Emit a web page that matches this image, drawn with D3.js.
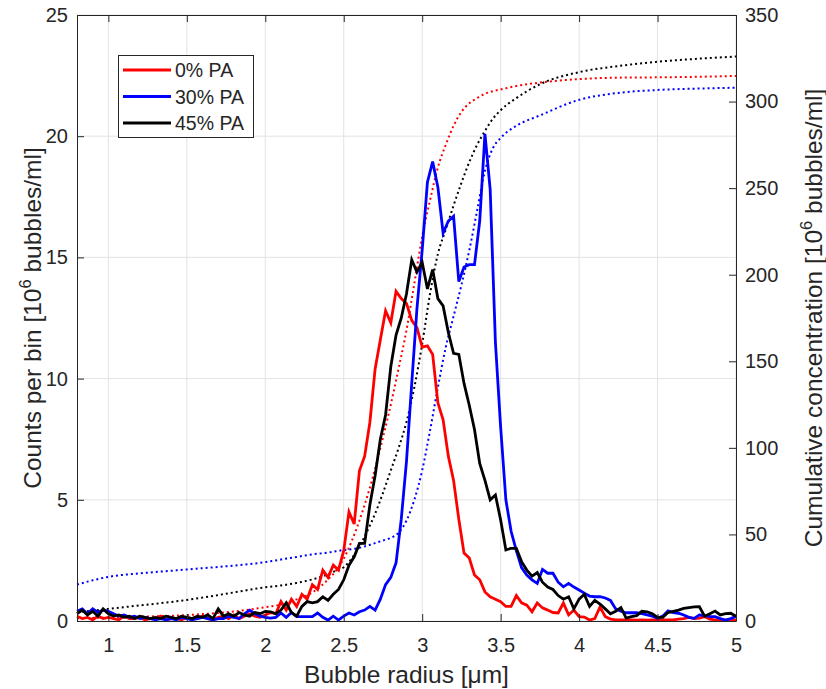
<!DOCTYPE html>
<html>
<head>
<meta charset="utf-8">
<script src="https://cdn.jsdelivr.net/npm/d3@7"></script>
<style>
body { margin: 0; background: #fff; }
text { font-family: "Liberation Sans", Arial, sans-serif; fill: #262626; }
</style>
</head>
<body>
<div id="chart"></div>
<script>

// histogram bins: 0.8 .. 5.0 um, 1/30 um wide
var binStart = 0.8;
var binStep = 1 / 30;

var aCountsRed = [
    0.2, 0.1, 0.15, 0.05, 0.2, 0.1, 0.15, 0.1, 0.05, 0.2, 0.1, 0.1, 0.15, 0.05, 0.1, 0.1, 0.2, 0.05,
    0.1, 0.1, 0.05, 0.15, 0.1, 0.1, 0.2, 0.1, 0.05, 0.15, 0.2, 0.1, 0.25, 0.1, 0.2, 0.3, 0.2, 0.15,
    0.25, 0.35, 0.3, 0.8, 0.45, 0.9, 0.6, 1.1, 0.9, 1.5, 1.3, 2.1, 1.8, 2.3, 2.1, 2.9,
    4.5, 4.0, 6.2, 6.8, 8.2, 10.4, 11.6, 12.8, 12.3, 13.6, 13.3, 13.1, 12.4, 12.1, 11.3, 11.35,
    11.0, 9.0, 8.3, 6.8, 5.8, 4.2, 2.8, 2.6, 1.9, 1.7, 1.2, 1.0, 0.9, 0.8, 0.6, 0.6,
    1.05, 0.75, 0.65, 0.38, 0.74, 0.54, 0.45, 0.35, 0.33, 0.74, 0.25, 0.45, 0.18, 0.16, 0.04, 0.1,
    0.58, 0.18, 0.08, 0.05, 0.05, 0.05, 0.05, 0.04, 0.05, 0.04, 0.05, 0.04, 0.05, 0.05, 0.05, 0.08,
    0.1, 0.15, 0.1, 0.12, 0.18, 0.08, 0.05, 0.05, 0.04, 0.05, 0.05
];

var aCountsBlue = [
    0.4, 0.5, 0.3, 0.5, 0.35, 0.45, 0.4, 0.3, 0.2, 0.25, 0.15, 0.2, 0.1, 0.15, 0.1, 0.05, 0.1, 0.05,
    0.1, 0.05, 0.15, 0.1, 0.05, 0.1, 0.15, 0.1, 0.05, 0.1, 0.1, 0.2, 0.15, 0.1, 0.3, 0.45, 0.3, 0.2,
    0.15, 0.12, 0.15, 0.33, 0.15, 0.35, 0.18, 0.18, 0.18, 0.18, 0.33, 0.15, 0.04, 0.2, 0.04, 0.2,
    0.33, 0.25, 0.38, 0.45, 0.6, 0.45, 0.9, 1.5, 1.8, 2.4, 4.2, 6.6, 9.8, 12.9, 15.3, 18.1,
    18.95, 17.9, 16.0, 16.5, 16.7, 14.0, 14.6, 14.7, 14.7, 16.5, 20.1, 17.8, 11.5, 8.0, 5.0, 3.7,
    2.9, 2.2, 1.9, 1.7, 1.55, 2.13, 1.97, 1.97, 1.6, 1.41, 1.55, 1.4, 1.28, 1.15, 1.03, 1.0,
    1.0, 0.95, 0.85, 0.5, 0.4, 0.34, 0.34, 0.34, 0.3, 0.25, 0.2, 0.11, 0.2, 0.42, 0.35, 0.32,
    0.25, 0.15, 0.11, 0.25, 0.22, 0.18, 0.18, 0.1, 0.04, 0.1, 0.2
];

var aCountsBlack = [
    0.3, 0.45, 0.25, 0.4, 0.2, 0.5, 0.3, 0.2, 0.25, 0.15, 0.2, 0.1, 0.2, 0.15, 0.1, 0.15, 0.1, 0.2,
    0.15, 0.1, 0.2, 0.15, 0.1, 0.2, 0.15, 0.25, 0.1, 0.5, 0.2, 0.3, 0.2, 0.35, 0.25, 0.2, 0.35, 0.3,
    0.4, 0.38, 0.3, 0.45, 0.75, 0.35, 0.2, 0.6, 0.8, 0.75, 0.8, 1.0, 0.85, 1.1, 1.3, 1.7,
    2.3, 2.65, 3.2, 3.2, 4.8, 6.0, 7.5, 8.5, 10.5, 11.8, 12.5, 13.5, 14.9, 14.4, 14.8, 13.7,
    14.5, 13.3, 13.0, 11.9, 11.04, 11.0, 9.8, 8.9, 7.9, 6.5, 5.8, 5.0, 5.2, 4.17, 2.93, 3.0,
    3.0, 2.45, 2.1, 1.85, 2.0, 1.6, 1.4, 1.3, 1.05, 0.9, 1.0, 0.5, 0.9, 1.1, 0.6, 0.85,
    0.7, 0.5, 0.3, 0.4, 0.55, 0.12, 0.18, 0.22, 0.4, 0.38, 0.3, 0.15, 0.15, 0.35, 0.4, 0.45,
    0.52, 0.55, 0.58, 0.59, 0.2, 0.3, 0.41, 0.25, 0.3, 0.32, 0.2
];

// cumulative concentration, read at these radii
var aCumRadius = [0.8, 0.9, 1.0, 1.2, 1.4, 1.6, 1.8, 2.0, 2.1, 2.2, 2.3, 2.4, 2.45, 2.5, 2.55, 2.6, 2.65,
    2.7, 2.75, 2.8, 2.85, 2.9, 2.95, 3.0, 3.05, 3.1, 3.15, 3.2, 3.25, 3.3, 3.35, 3.4, 3.45, 3.5,
    3.6, 3.75, 4.0, 4.25, 4.5, 4.75, 5.0];

var aCumRed = [1.5, 1.8, 2, 2.5, 3, 4, 5.5, 8, 9.5, 12.5, 16.5, 24, 29, 36, 46, 58, 72,
    88, 106, 125, 146, 168, 195, 222, 243, 262, 275, 286, 294, 299, 302, 304.5, 306, 307,
    309, 311, 313, 313.8, 314, 314.3, 314.8];

var aCumBlue = [21, 23.5, 25.5, 27.5, 29, 30.5, 32, 34, 35.5, 37, 38.5, 39.5, 40.3, 41, 41.5, 42.3, 43.5,
    45, 46.5, 48, 51, 58, 70, 87, 110, 135, 158, 176, 194, 214, 237, 260, 273, 279,
    286, 292, 301, 305, 306.7, 307.5, 308];

var aCumBlack = [5, 6, 7, 9, 11, 13.5, 16.5, 19.5, 20.5, 22, 24, 27, 29, 31, 36, 43, 52,
    62, 74, 87, 100, 115, 135, 160, 189, 212, 226, 240, 253, 265, 275, 283, 290, 295,
    302, 310, 317, 320.5, 323, 324.7, 326];

var aXTicks = [1, 1.5, 2, 2.5, 3, 3.5, 4, 4.5, 5];
var aLeftTicks = [0, 5, 10, 15, 20, 25];
var aRightTicks = [0, 50, 100, 150, 200, 250, 300, 350];

var aSeriesNames = ["0% PA", "30% PA", "45% PA"];
var aSeriesColors = ["#ff0000", "#0000ff", "#000000"];


var w = 826;
var h = 689;
var plotL = 77, plotR = 736, plotT = 15, plotB = 621;
var axisColor = "#262626";

var svg = d3.select("#chart")
    .append("svg")
    .attr("width", w)
    .attr("height", h)

var x = d3.scaleLinear().domain([0.8, 5]).range([plotL, plotR]);
var yL = d3.scaleLinear().domain([0, 25]).range([plotB, plotT]);
var yR = d3.scaleLinear().domain([0, 350]).range([plotB, plotT]);

// grid
svg.selectAll("line.vgrid")
    .data(aXTicks)
    .enter()
    .append("line")
    .attr("x1", function(d){ return x(d) })
    .attr("x2", function(d){ return x(d) })
    .attr("y1", plotT)
    .attr("y2", plotB)
    .attr("stroke", "#e3e3e3")
    .attr("stroke-width", 1)

svg.selectAll("line.hgrid")
    .data(aLeftTicks)
    .enter()
    .append("line")
    .attr("x1", plotL)
    .attr("x2", plotR)
    .attr("y1", function(d){ return yL(d) })
    .attr("y2", function(d){ return yL(d) })
    .attr("stroke", "#e3e3e3")
    .attr("stroke-width", 1)

var radius = aCountsRed.map(function(d, i){ return binStart + i * binStep; });

var plot = svg.append("g");

// cumulative curves (right axis), dotted
var cumLine = d3.line()
    .x(function(d){ return x(d[0]) })
    .y(function(d){ return yR(d[1]) })
    .curve(d3.curveMonotoneX);

[aCumRed, aCumBlue, aCumBlack].forEach(function(arr, k){
    plot.append("path")
        .datum(d3.zip(aCumRadius, arr))
        .attr("d", cumLine)
        .attr("fill", "none")
        .attr("stroke", aSeriesColors[k])
        .attr("stroke-width", 2)
        .attr("stroke-dasharray", "2,3")
})

// counts per bin (left axis)
var countLine = d3.line()
    .x(function(d){ return x(d[0]) })
    .y(function(d){ return yL(d[1]) });

[aCountsRed, aCountsBlue, aCountsBlack].forEach(function(arr, k){
    plot.append("path")
        .datum(d3.zip(radius, arr))
        .attr("d", countLine)
        .attr("fill", "none")
        .attr("stroke", aSeriesColors[k])
        .attr("stroke-width", 2.8)
        .attr("stroke-linejoin", "miter")
})

// axes
function styleAxis(g){
    g.selectAll("path.domain").attr("stroke", axisColor).attr("stroke-width", 1);
    g.selectAll(".tick line").attr("stroke", axisColor);
    g.selectAll(".tick text").attr("font-size", "20px").attr("fill", axisColor)
        .style("font-family", "'Liberation Sans', Arial, sans-serif");
}

svg.append("g")
    .attr("transform", "translate(0," + plotB + ")")
    .call(d3.axisBottom(x).tickValues(aXTicks).tickSizeInner(-7).tickSizeOuter(0)
        .tickPadding(17).tickFormat(d3.format("")))
    .call(styleAxis)

svg.append("g")
    .attr("transform", "translate(0," + plotT + ")")
    .call(d3.axisTop(x).tickValues(aXTicks).tickSizeInner(-7).tickSizeOuter(0).tickFormat(""))
    .call(styleAxis)

svg.append("g")
    .attr("transform", "translate(" + plotL + ",0)")
    .call(d3.axisLeft(yL).tickValues(aLeftTicks).tickSizeInner(-7).tickSizeOuter(0).tickPadding(9))
    .call(styleAxis)

svg.append("g")
    .attr("transform", "translate(" + plotR + ",0)")
    .call(d3.axisRight(yR).tickValues(aRightTicks).tickSizeInner(-7).tickSizeOuter(0).tickPadding(9))
    .call(styleAxis)

// axis labels
svg.append("text")
    .attr("x", (plotL + plotR) / 2)
    .attr("y", 683)
    .attr("text-anchor", "middle")
    .attr("font-size", "24.5px")
    .text("Bubble radius [μm]")

function addYLabel(tx, before, after){
    var t = svg.append("text")
        .attr("transform", "translate(" + tx + "," + ((plotT + plotB) / 2) + ") rotate(-90)")
        .attr("text-anchor", "middle")
        .attr("font-size", "24.5px")
    t.append("tspan").text(before)
    t.append("tspan").attr("font-size", "16.5px").attr("dy", -10).text("6")
    t.append("tspan").attr("dy", 10).text(after)
}
addYLabel(41, "Counts per bin [10", " bubbles/ml]");
addYLabel(822, "Cumulative concentration [10", " bubbles/ml]");

// legend
var legend = svg.append("g");
legend.append("rect")
    .attr("x", 118.5)
    .attr("y", 55.5)
    .attr("width", 135)
    .attr("height", 82)
    .attr("fill", "#fff")
    .attr("stroke", axisColor)
    .attr("stroke-width", 1)

legend.selectAll("line.key")
    .data(aSeriesNames)
    .enter()
    .append("line")
    .attr("x1", 123)
    .attr("x2", 171)
    .attr("y1", function(d, i){ return 70 + i * 26.5 })
    .attr("y2", function(d, i){ return 70 + i * 26.5 })
    .attr("stroke", function(d, i){ return aSeriesColors[i] })
    .attr("stroke-width", 2.8)

legend.selectAll("text.key")
    .data(aSeriesNames)
    .enter()
    .append("text")
    .text(function(d){ return d })
    .attr("x", 175)
    .attr("y", function(d, i){ return 77 + i * 26.5 })
    .attr("font-size", "19.5px")
    .attr("fill", "#000")

</script>
</body>
</html>
